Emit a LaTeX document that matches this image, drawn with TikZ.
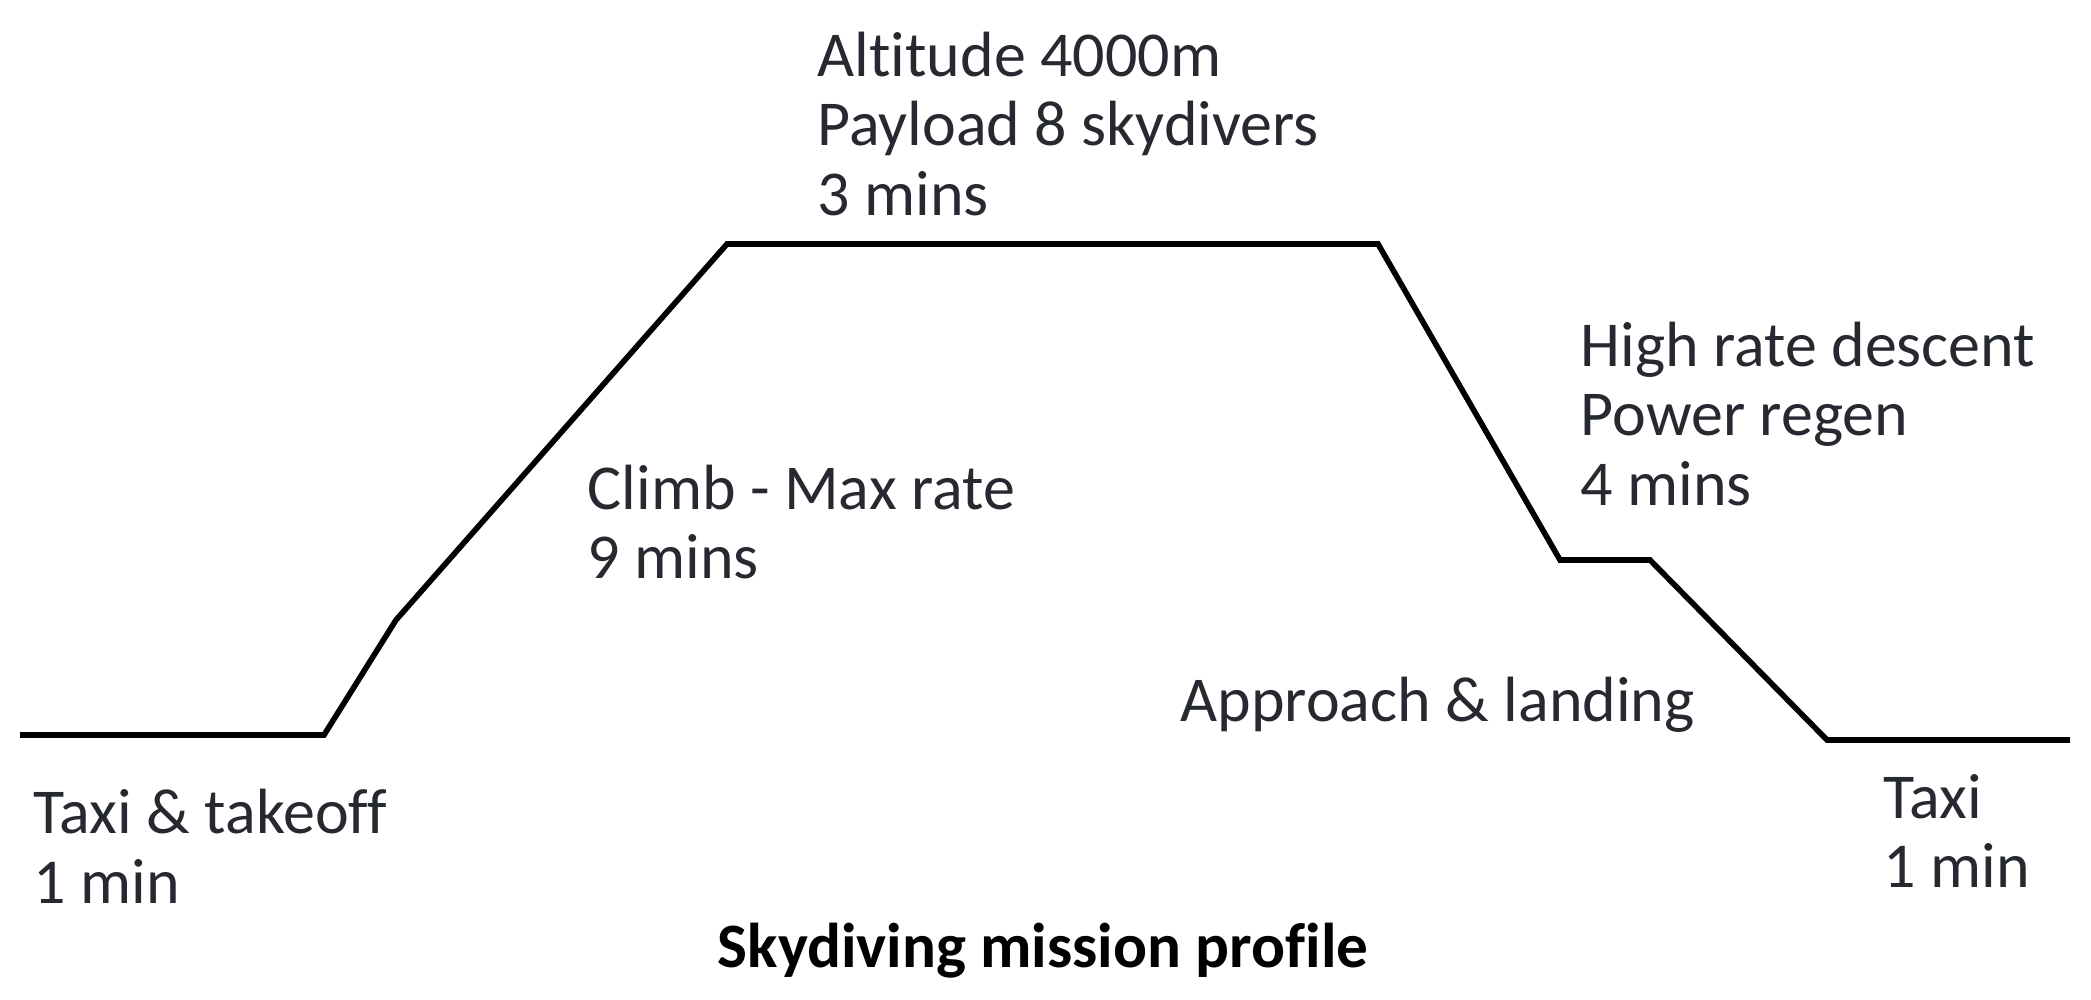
\documentclass[tikz,border=0pt]{standalone}
\usepackage{fontspec}
\setmainfont{Carlito}[Ligatures=NoCommon]
\usepackage{tikz}
\usetikzlibrary{positioning}
\definecolor{txtgray}{HTML}{262A30}
\tikzstyle{label}=[inner sep=0pt, anchor=west, align=left, text=txtgray, font=\fontsize{18.2}{19.8}\selectfont]
\tikzstyle{title}=[inner sep=0pt, text=black, font=\fontsize{18}{20}\selectfont\bfseries]
\tikzstyle{profile}=[draw=black, line width=1.6pt, line join=miter]

\begin{document}
\begin{tikzpicture}
\useasboundingbox (0,0) rectangle (20.91,-10);
%Profile points
\coordinate (p1) at (0.20,-7.35);
\coordinate (p2) at (3.24,-7.35);
\coordinate (p3) at (3.96,-6.20);
\coordinate (p4) at (7.27,-2.44);
\coordinate (p5) at (13.78,-2.44);
\coordinate (p6) at (15.60,-5.60);
\coordinate (p7) at (16.50,-5.60);
\coordinate (p8) at (18.27,-7.40);
\coordinate (p9) at (20.70,-7.40);
\draw[profile] (p1) -- (p2) -- (p3) -- (p4) -- (p5) -- (p6) -- (p7) -- (p8) -- (p9);
%Labels
\node[label] (alt) at (8.17,-1.24){Altitude 4000m\\Payload 8 skydivers\\3 mins};
\node[label] (climb) at (5.87,-5.22){Climb - Max rate\\9 mins};
\node[label] (desc) at (15.80,-4.14){High rate descent\\Power regen\\4 mins};
\node[label] (appr) at (11.80,-7.05){Approach \& landing};
\node[label] (takeoff) at (0.33,-8.46){Taxi \& takeoff\\1 min};
\node[label] (taxi) at (18.83,-8.31){Taxi\\1 min};
%Title
\node[title] (ttl) at (10.43,-9.51){Skydiving mission profile};
\end{tikzpicture}
\end{document}
